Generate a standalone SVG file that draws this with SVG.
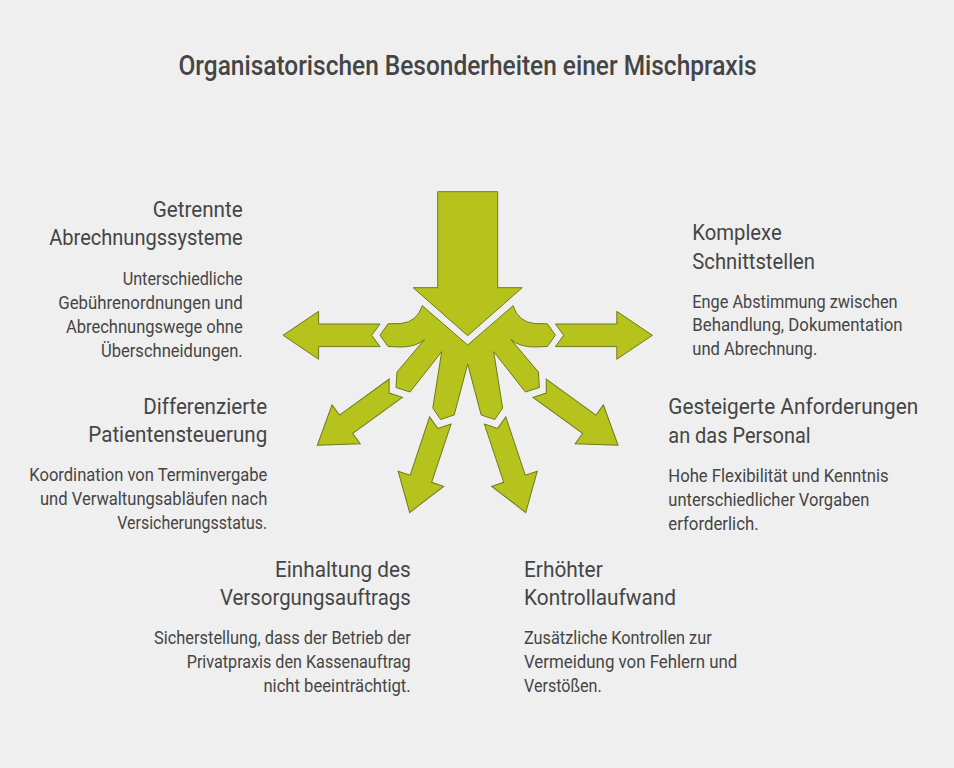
<svg xmlns="http://www.w3.org/2000/svg" xmlns:xlink="http://www.w3.org/1999/xlink" width="954" height="768" viewBox="0 0 954 768">
  <style>
    .t { font-family: Roboto, "Liberation Sans", sans-serif; fill: #454545; }
    .title { font-size: 27px; font-weight: 500; }
    .h { font-size: 22px; }
    .b { font-size: 17.5px; }
    .g { fill: #b5c31c; stroke: #6e7a1e; stroke-width: 1; stroke-linejoin: miter; }
  </style>
  <defs>
    <path id="arr" d="M0,-11.3 L61.4,-11.3 L61.4,-24 L97,0 L61.4,24 L61.4,11.3 L0,11.3 L8.3,0 Z"/>
  </defs>
  <rect x="0" y="0" width="954" height="768" fill="#efefef"/>

  <text class="t title" x="467.5" y="74.5" text-anchor="middle" textLength="578" lengthAdjust="spacingAndGlyphs">Organisatorischen Besonderheiten einer Mischpraxis</text>

  <g id="hub">
    <path class="g" d="M437.7,191.7 L497.7,191.7 L497.7,287.7 L522.2,287.7 L467.7,335.7 L413.2,287.7 L437.7,287.7 Z"/>
    <path class="g" d="M467.7,345 L422.3,305.7 Q417,322 401,323.5 L388,323.8 L380,335.2 L388,346.5 L401,347 Q416,347 424.5,339.5 L397,372 L396,387.5 L410,392 L441.7,351.7 L432.8,408 L440.6,419.5 L454.2,415 L467.7,364 L481.2,415 L494.8,419.5 L502.6,408 L493.7,351.7 L525.4,392 L539.4,387.5 L538.4,372 L510.9,339.5 Q519.4,347 534.4,347 L547.4,346.5 L555.4,335.2 L547.4,323.8 L534.4,323.5 Q518.4,322 513.1,305.7 Z"/>
  </g>

  <g id="connectors">
    <use xlink:href="#arr" class="g" transform="translate(380,335.3) rotate(180)"/>
    <use xlink:href="#arr" class="g" transform="translate(555.4,335.3)"/>
    <use xlink:href="#arr" class="g" transform="translate(395.8,388.2) rotate(144)"/>
    <use xlink:href="#arr" class="g" transform="translate(539.6,388.2) rotate(36)"/>
    <use xlink:href="#arr" class="g" transform="translate(440.3,420.5) rotate(108.4)"/>
    <use xlink:href="#arr" class="g" transform="translate(495.1,420.5) rotate(71.6)"/>
  </g>

  <g id="node-getrennte" class="t" text-anchor="end">
    <text class="h" x="242.7" y="216.5" textLength="90" lengthAdjust="spacingAndGlyphs">Getrennte</text>
    <text class="h" x="242.7" y="245" textLength="193.5" lengthAdjust="spacingAndGlyphs">Abrechnungssysteme</text>
    <text class="b" x="242.7" y="284.5" textLength="120" lengthAdjust="spacingAndGlyphs">Unterschiedliche</text>
    <text class="b" x="242.7" y="308.5" textLength="184.5" lengthAdjust="spacingAndGlyphs">Gebührenordnungen und</text>
    <text class="b" x="242.7" y="332.5" textLength="176.7" lengthAdjust="spacingAndGlyphs">Abrechnungswege ohne</text>
    <text class="b" x="242.7" y="356.5" textLength="141.7" lengthAdjust="spacingAndGlyphs">Überschneidungen.</text>
  </g>

  <g id="node-differenzierte" class="t" text-anchor="end">
    <text class="h" x="267.3" y="413.5" textLength="124" lengthAdjust="spacingAndGlyphs">Differenzierte</text>
    <text class="h" x="267.3" y="442" textLength="179" lengthAdjust="spacingAndGlyphs">Patientensteuerung</text>
    <text class="b" x="267.3" y="481" textLength="238" lengthAdjust="spacingAndGlyphs">Koordination von Terminvergabe</text>
    <text class="b" x="267.3" y="505" textLength="227.3" lengthAdjust="spacingAndGlyphs">und Verwaltungsabläufen nach</text>
    <text class="b" x="267.3" y="529" textLength="150" lengthAdjust="spacingAndGlyphs">Versicherungsstatus.</text>
  </g>

  <g id="node-komplexe" class="t">
    <text class="h" x="692.3" y="239.5" textLength="89.4" lengthAdjust="spacingAndGlyphs">Komplexe</text>
    <text class="h" x="692.3" y="269" textLength="122.7" lengthAdjust="spacingAndGlyphs">Schnittstellen</text>
    <text class="b" x="692.3" y="307.5" textLength="205.3" lengthAdjust="spacingAndGlyphs">Enge Abstimmung zwischen</text>
    <text class="b" x="692.3" y="331" textLength="210.3" lengthAdjust="spacingAndGlyphs">Behandlung, Dokumentation</text>
    <text class="b" x="692.3" y="355" textLength="125" lengthAdjust="spacingAndGlyphs">und Abrechnung.</text>
  </g>

  <g id="node-gesteigerte" class="t">
    <text class="h" x="668.3" y="413.5" textLength="250" lengthAdjust="spacingAndGlyphs">Gesteigerte Anforderungen</text>
    <text class="h" x="668.3" y="442.5" textLength="142.3" lengthAdjust="spacingAndGlyphs">an das Personal</text>
    <text class="b" x="668.3" y="481.5" textLength="220.3" lengthAdjust="spacingAndGlyphs">Hohe Flexibilität und Kenntnis</text>
    <text class="b" x="668.3" y="505.5" textLength="201" lengthAdjust="spacingAndGlyphs">unterschiedlicher Vorgaben</text>
    <text class="b" x="668.3" y="529.5" textLength="90.3" lengthAdjust="spacingAndGlyphs">erforderlich.</text>
  </g>

  <g id="node-einhaltung" class="t" text-anchor="end">
    <text class="h" x="410.7" y="576.5" textLength="135.7" lengthAdjust="spacingAndGlyphs">Einhaltung des</text>
    <text class="h" x="410.7" y="605" textLength="190.7" lengthAdjust="spacingAndGlyphs">Versorgungsauftrags</text>
    <text class="b" x="410.7" y="644" textLength="256.7" lengthAdjust="spacingAndGlyphs">Sicherstellung, dass der Betrieb der</text>
    <text class="b" x="410.7" y="668" textLength="224" lengthAdjust="spacingAndGlyphs">Privatpraxis den Kassenauftrag</text>
    <text class="b" x="410.7" y="692" textLength="147.3" lengthAdjust="spacingAndGlyphs">nicht beeinträchtigt.</text>
  </g>

  <g id="node-kontrolle" class="t">
    <text class="h" x="524" y="576.5" textLength="78.7" lengthAdjust="spacingAndGlyphs">Erhöhter</text>
    <text class="h" x="524" y="605" textLength="152" lengthAdjust="spacingAndGlyphs">Kontrollaufwand</text>
    <text class="b" x="524" y="644" textLength="187.7" lengthAdjust="spacingAndGlyphs">Zusätzliche Kontrollen zur</text>
    <text class="b" x="524" y="668" textLength="213.3" lengthAdjust="spacingAndGlyphs">Vermeidung von Fehlern und</text>
    <text class="b" x="524" y="692" textLength="77.7" lengthAdjust="spacingAndGlyphs">Verstößen.</text>
  </g>
</svg>
